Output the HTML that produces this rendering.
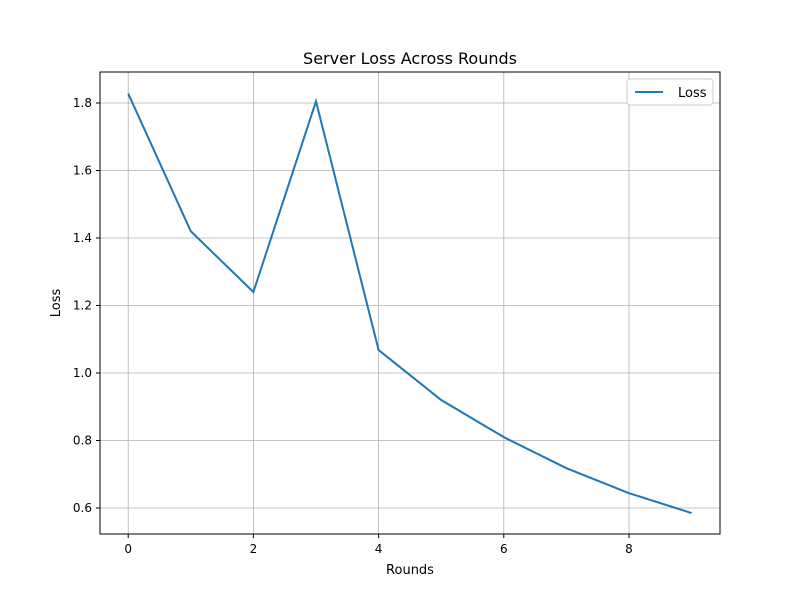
<!DOCTYPE html>
<html><head><meta charset="utf-8"><style>
body{margin:0;background:#fff}
svg{display:block;font-family:"DejaVu Sans","Liberation Sans",sans-serif}
</style></head><body>
<svg id="chart" width="800" height="600" xmlns="http://www.w3.org/2000/svg">
<rect width="800" height="600" fill="#fff"/>
<text x="410" y="64" text-anchor="middle" font-size="16">Server Loss Across Rounds</text>
<g id="grid"></g>
<g id="ticks"></g>
<polyline id="line" fill="none" stroke="#1f77b4" stroke-width="2"/>
<rect x="100" y="72" width="620" height="462" fill="none" stroke="#000" stroke-width="1"/>
<text x="410" y="574" text-anchor="middle" font-size="13">Rounds</text>
<text x="60" y="303" text-anchor="middle" font-size="13" transform="rotate(-90 60 303)">Loss</text>
<g>
<rect x="627" y="79" width="86" height="26" rx="3" fill="#fff" stroke="#ccc"/>
<line x1="635" y1="92" x2="663" y2="92" stroke="#1f77b4" stroke-width="2"/>
<text x="678" y="97" font-size="13">Loss</text>
</g>
</svg>
<script>
const rounds=[0,1,2,3,4,5,6,7,8,9];
const loss=[1.828,1.42,1.24,1.805,1.068,0.92,0.81,0.718,0.644,0.585];
const xTicks=[0,2,4,6,8];
const yTicks=[0.6,0.8,1.0,1.2,1.4,1.6,1.8];
const X=v=>128.2+v*62.6;
const Y=v=>508-(v-0.6)*337.5;
const ns="http://www.w3.org/2000/svg";
const grid=document.getElementById('grid'),ticks=document.getElementById('ticks');
function mk(t,a,p){const e=document.createElementNS(ns,t);for(const k in a)e.setAttribute(k,a[k]);p.appendChild(e);return e;}
xTicks.forEach(v=>{
 const g=mk('line',{x1:X(v),x2:X(v),y1:72,y2:534,stroke:'#b0b0b0','stroke-width':0.8},grid);
 
 
 mk('line',{x1:X(v),x2:X(v),y1:534,y2:538,stroke:'#000'},ticks);
 const t=mk('text',{x:X(v),y:553,'text-anchor':'middle','font-size':12},ticks);
 t.textContent=v;
 
 
});
yTicks.forEach(v=>{
 const g=mk('line',{x1:100,x2:720,y1:Y(v),y2:Y(v),stroke:'#b0b0b0','stroke-width':0.8},grid);
 
 
 mk('line',{x1:96,x2:100,y1:Y(v),y2:Y(v),stroke:'#000'},ticks);
 const t=mk('text',{x:92,y:Y(v)+4,'text-anchor':'end','font-size':12},ticks);
 t.textContent=v.toFixed(1);
 
 
});
document.getElementById('line').setAttribute('points',rounds.map((r,i)=>X(r)+','+Y(loss[i])).join(' '));
</script>
</body></html>
